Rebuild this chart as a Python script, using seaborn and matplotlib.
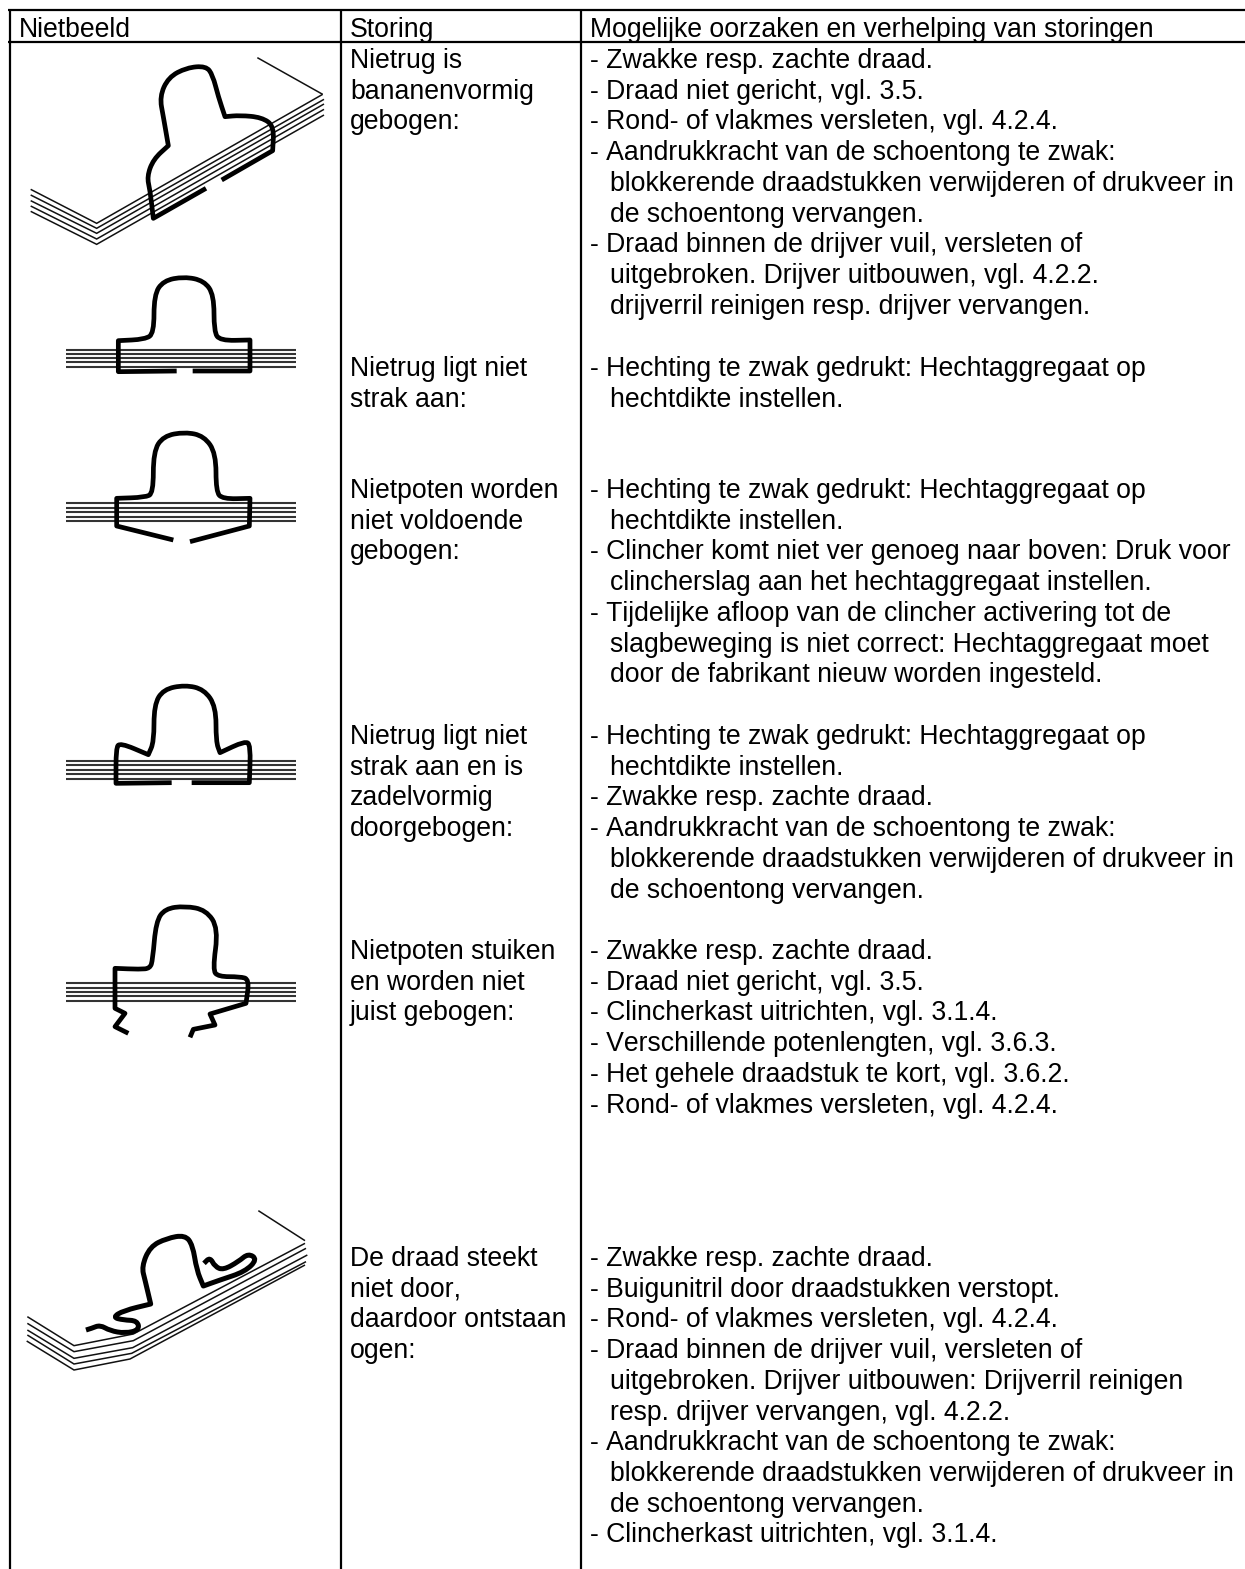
import numpy as np
import matplotlib
matplotlib.use("Agg")
import matplotlib.pyplot as plt
import seaborn as sns
from matplotlib.patches import PathPatch
from matplotlib.path import Path

# table text
headers = ["Nietbeeld", "Storing", "Mogelijke oorzaken en verhelping van storingen"]

row_first_line = [59, 367, 489, 735, 950, 1257]

storing = [
    ["Nietrug is", "bananenvormig", "gebogen:"],
    ["Nietrug ligt niet", "strak aan:"],
    ["Nietpoten worden", "niet voldoende", "gebogen:"],
    ["Nietrug ligt niet", "strak aan en is", "zadelvormig", "doorgebogen:"],
    ["Nietpoten stuiken", "en worden niet", "juist gebogen:"],
    ["De draad steekt", "niet door,", "daardoor ontstaan", "ogen:"],
]

oorzaken = [
    ["- Zwakke resp. zachte draad.",
     "- Draad niet gericht, vgl. 3.5.",
     "- Rond- of vlakmes versleten, vgl. 4.2.4.",
     "- Aandrukkracht van de schoentong te zwak:",
     " blokkerende draadstukken verwijderen of drukveer in",
     " de schoentong vervangen.",
     "- Draad binnen de drijver vuil, versleten of",
     " uitgebroken. Drijver uitbouwen, vgl. 4.2.2.",
     " drijverril reinigen resp. drijver vervangen."],
    ["- Hechting te zwak gedrukt: Hechtaggregaat op",
     " hechtdikte instellen."],
    ["- Hechting te zwak gedrukt: Hechtaggregaat op",
     " hechtdikte instellen.",
     "- Clincher komt niet ver genoeg naar boven: Druk voor",
     " clincherslag aan het hechtaggregaat instellen.",
     "- Tijdelijke afloop van de clincher activering tot de",
     " slagbeweging is niet correct: Hechtaggregaat moet",
     " door de fabrikant nieuw worden ingesteld."],
    ["- Hechting te zwak gedrukt: Hechtaggregaat op",
     " hechtdikte instellen.",
     "- Zwakke resp. zachte draad.",
     "- Aandrukkracht van de schoentong te zwak:",
     " blokkerende draadstukken verwijderen of drukveer in",
     " de schoentong vervangen."],
    ["- Zwakke resp. zachte draad.",
     "- Draad niet gericht, vgl. 3.5.",
     "- Clincherkast uitrichten, vgl. 3.1.4.",
     "- Verschillende potenlengten, vgl. 3.6.3.",
     "- Het gehele draadstuk te kort, vgl. 3.6.2.",
     "- Rond- of vlakmes versleten, vgl. 4.2.4."],
    ["- Zwakke resp. zachte draad.",
     "- Buigunitril door draadstukken verstopt.",
     "- Rond- of vlakmes versleten, vgl. 4.2.4.",
     "- Draad binnen de drijver vuil, versleten of",
     " uitgebroken. Drijver uitbouwen: Drijverril reinigen",
     " resp. drijver vervangen, vgl. 4.2.2.",
     "- Aandrukkracht van de schoentong te zwak:",
     " blokkerende draadstukken verwijderen of drukveer in",
     " de schoentong vervangen.",
     "- Clincherkast uitrichten, vgl. 3.1.4."],
]

# staple wires, traced in 3x crop coordinates, a repeated point is a sharp corner
wire_1 = [(618, 565), (460, 655), (460, 655), (450, 570), (441, 530), (460, 478), (505, 437), (505, 437),
          (490, 350), (479, 290), (505, 232), (560, 203), (618, 198), (638, 225), (655, 290), (675, 350),
          (675, 350), (720, 346), (785, 352), (822, 378), (818, 452), (818, 452), (665, 540)]
wire_2 = [(530, 1113), (355, 1115), (355, 1115), (355, 1022), (355, 1022), (435, 1018), (462, 1000), (462, 885),
          (490, 842), (552, 830), (612, 842), (642, 885), (642, 995), (660, 1022), (750, 1020), (750, 1020),
          (750, 1113), (750, 1113), (578, 1113)]
wire_3 = [(520, 420), (350, 378), (350, 378), (350, 295), (350, 295), (435, 292), (460, 280), (460, 155),
          (490, 108), (555, 96), (612, 108), (648, 160), (648, 275), (668, 297), (750, 295), (750, 295),
          (748, 378), (748, 378), (570, 425)]
wire_4 = [(515, 128), (348, 130), (348, 130), (348, 25), (360, 8), (445, 44), (445, 44), (462, 5), (462, -105),
          (490, -152), (555, -165), (612, -152), (648, -100), (648, 5), (660, 38), (660, 38), (735, 3), (752, 15),
          (748, 128), (748, 128), (575, 128)]
wire_5 = [(385, 880), (345, 860), (345, 860), (375, 820), (375, 820), (345, 805), (345, 805), (345, 685),
          (345, 685), (420, 688), (450, 685), (458, 660), (468, 545), (495, 506), (555, 498), (618, 510),
          (655, 565), (638, 690), (655, 710), (720, 710), (748, 718), (738, 790), (738, 790), (630, 822),
          (630, 822), (645, 855), (645, 855), (580, 868), (580, 868), (570, 892)]
wire_6 = [(258, 450), (275, 445), (300, 435), (330, 452), (375, 460), (418, 450), (412, 422), (370, 420),
          (338, 412), (370, 392), (452, 372), (452, 372), (435, 300), (425, 260), (450, 200), (500, 175),
          (555, 165), (578, 195), (590, 270), (610, 318), (610, 318), (660, 300), (735, 275), (772, 238),
          (745, 220), (715, 245), (670, 270), (645, 260), (630, 232), (612, 250)]

# paper sheets, same crop coordinates
flat_y_2 = [1050, 1062, 1075, 1087, 1100]
flat_y_3 = [310, 323, 336, 350, 364]
flat_y_4 = [63, 75, 89, 103, 117]
flat_y_5 = [730, 743, 755, 767, 783]

sheets_1 = [[(92, 568), (290, 670), (968, 283)],
            [(92, 585), (290, 685), (972, 298)],
            [(92, 602), (290, 700), (972, 312)],
            [(92, 618), (290, 717), (972, 328)],
            [(92, 634), (290, 733), (972, 345)]]
back_1 = [(772, 173), (968, 283)]

sheets_6 = [[(82, 410), (222, 497), (400, 462), (915, 190)],
            [(82, 430), (222, 515), (400, 482), (918, 205)],
            [(82, 450), (222, 535), (398, 503), (922, 225)],
            [(82, 465), (222, 552), (395, 520), (918, 245)],
            [(80, 483), (222, 570), (390, 537), (915, 255)]]
back_6 = [(775, 92), (915, 182)]

sns.set_theme(style="white")
plt.rcParams["font.family"] = ["Liberation Sans", "DejaVu Sans"]
plt.rcParams["text.kerning_factor"] = 6

fig = plt.figure(figsize=(12.45, 15.69), dpi=100)
ax = fig.add_axes([0, 0, 1, 1])


def to_px(points, dy):
    # crop coordinates to picture pixels
    arr = np.array(points, dtype=float)
    return arr[:, 0] / 3, arr[:, 1] / 3 + dy


def draw_line(x, y, lw, color="black", cap="butt"):
    sns.lineplot(x=x, y=y, ax=ax, color=color, lw=lw, sort=False, estimator=None,
                 legend=False, solid_capstyle=cap, solid_joinstyle="miter")


def draw_wire(points, dy, lw=3.4):
    # quadratic spline through the midpoints, keeps the wire round
    x, y = to_px(points, dy)
    pts = np.column_stack([x, y])
    verts = [pts[0]]
    codes = [Path.MOVETO]
    for i in range(1, len(pts) - 1):
        verts += [pts[i], (pts[i] + pts[i + 1]) / 2]
        codes += [Path.CURVE3, Path.CURVE3]
    verts.append(pts[-1])
    codes.append(Path.LINETO)
    ax.add_patch(PathPatch(Path(verts, codes), fc="none", ec="black", lw=lw,
                           capstyle="butt", joinstyle="round", zorder=3))


# table rules
draw_line([8, 1245], [10, 10], 1.6)
draw_line([8, 1245], [41.5, 41.5], 1.6)
draw_line([9.5, 9.5], [10, 1569], 1.6)
draw_line([340.5, 340.5], [10, 1569], 1.6)
draw_line([581, 581], [10, 1569], 1.6)

# sheets
for line in sheets_1:
    draw_line(*to_px(line, 0), 1.1, "#111111")
draw_line(*to_px(back_1, 0), 1.1, "#111111")
for line in sheets_6:
    draw_line(*to_px(line, 1180), 1.1, "#111111")
draw_line(*to_px(back_6, 1180), 1.1, "#111111")

for ys, dy in [(flat_y_2, 0), (flat_y_3, 400), (flat_y_4, 740), (flat_y_5, 740)]:
    for y in ys:
        draw_line(*to_px([(197, y), (888, y)], dy), 1.5, "#333333")

# staples
draw_wire(wire_1, 0)
draw_wire(wire_2, 0)
draw_wire(wire_3, 400)
draw_wire(wire_4, 740)
draw_wire(wire_5, 740)
draw_wire(wire_6, 1180, lw=3.6)

# text
font_size = 19.15
line_gap = 30.72
header_x = [19, 350, 590]
for x, label in zip(header_x, headers):
    ax.text(x, 37, label, fontsize=font_size, color="black", va="baseline", ha="left")

for start, cell_b, cell_c in zip(row_first_line, storing, oorzaken):
    for i, line in enumerate(cell_b):
        ax.text(350, start + 9 + i * line_gap, line, fontsize=font_size, color="black", va="baseline")
    for i, line in enumerate(cell_c):
        x = 610 if line.startswith(" ") else 590
        ax.text(x, start + 9 + i * line_gap, line.strip(), fontsize=font_size, color="black", va="baseline")

ax.set_xlim(0, 1245)
ax.set_ylim(1569, 0)
ax.set_axis_off()

fig.savefig("out.png", dpi=100, facecolor="white")
